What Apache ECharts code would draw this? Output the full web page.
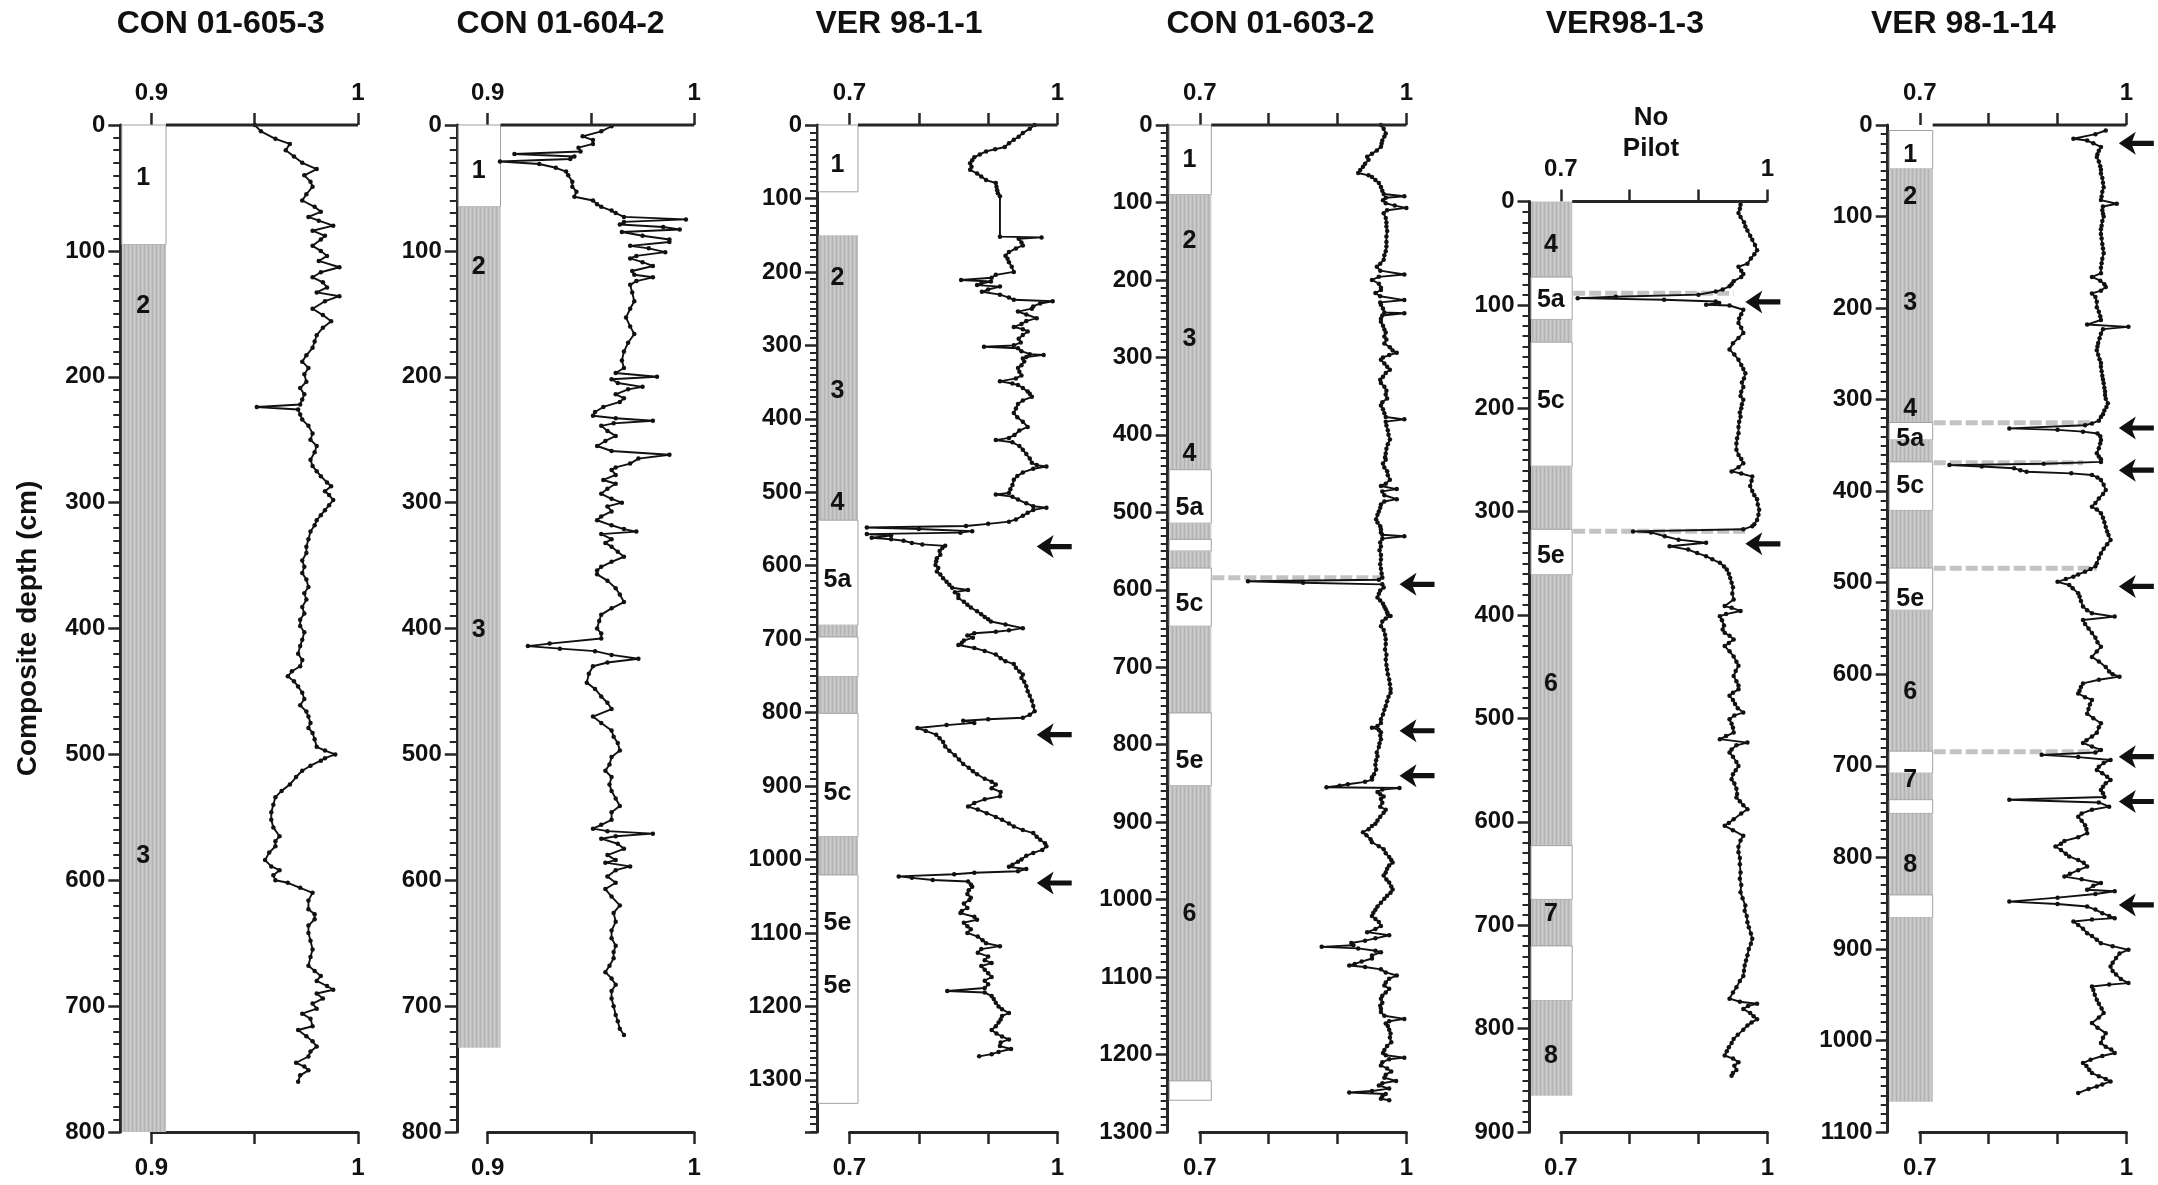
<!DOCTYPE html>
<html>
<head>
<meta charset="utf-8">
<title>Core logs</title>
<script src="https://cdn.jsdelivr.net/npm/echarts@6/dist/echarts.min.js"></script>
<style>
  html, body { margin: 0; padding: 0; background: #fff; }
  #chart { width: 2158px; height: 1185px; }
</style>
</head>
<body>
<div id="chart"></div>
<script>
// ---- core names ----
const coreNames = ['CON 01-605-3', 'CON 01-604-2', 'VER 98-1-1', 'CON 01-603-2', 'VER98-1-3', 'VER 98-1-14'];

// ---- measured profiles: [depth (cm), value] ----
const con6053 = [[0,0.950],[5,0.953],[11,0.960],[15,0.967],[20,0.965],[25,0.969],[30,0.973],[35,0.980],[40,0.974],[45,0.977],[49,0.978],[55,0.975],[60,0.973],[65,0.979],[69,0.982],[73,0.976],[76,0.981],[80,0.988],[84,0.978],[88,0.984],[91,0.982],[96,0.978],[100,0.982],[104,0.985],[108,0.981],[113,0.991],[117,0.982],[121,0.978],[125,0.983],[129,0.985],[133,0.980],[136,0.991],[140,0.984],[146,0.978],[151,0.983],[156,0.987],[161,0.983],[167,0.980],[172,0.979],[177,0.978],[183,0.975],[188,0.973],[193,0.976],[198,0.974],[204,0.975],[209,0.972],[214,0.974],[218,0.973],[222,0.972],[224,0.951],[226,0.971],[230,0.972],[234,0.973],[239,0.976],[245,0.978],[250,0.977],[255,0.980],[260,0.979],[266,0.977],[271,0.978],[275,0.980],[279,0.982],[284,0.985],[287,0.987],[291,0.984],[294,0.986],[298,0.988],[302,0.986],[306,0.984],[310,0.982],[314,0.980],[318,0.979],[323,0.977],[329,0.976],[335,0.975],[340,0.975],[346,0.973],[351,0.974],[356,0.973],[361,0.975],[367,0.976],[372,0.974],[377,0.975],[383,0.973],[388,0.974],[393,0.972],[398,0.972],[403,0.974],[409,0.973],[414,0.972],[420,0.971],[425,0.973],[430,0.972],[434,0.968],[438,0.966],[442,0.969],[446,0.971],[451,0.973],[456,0.974],[461,0.972],[466,0.975],[470,0.976],[475,0.977],[479,0.976],[483,0.978],[488,0.979],[494,0.980],[497,0.984],[500,0.989],[503,0.984],[505,0.982],[509,0.977],[513,0.973],[518,0.970],[524,0.967],[529,0.963],[534,0.960],[540,0.959],[546,0.958],[552,0.958],[558,0.959],[565,0.962],[569,0.960],[573,0.960],[578,0.957],[584,0.955],[589,0.958],[592,0.962],[596,0.959],[600,0.960],[602,0.966],[606,0.972],[610,0.978],[616,0.976],[623,0.976],[627,0.979],[631,0.979],[636,0.976],[642,0.976],[648,0.977],[655,0.978],[661,0.977],[668,0.976],[672,0.979],[676,0.982],[680,0.980],[684,0.985],[687,0.988],[690,0.980],[694,0.983],[698,0.978],[702,0.980],[706,0.973],[710,0.977],[716,0.978],[719,0.971],[724,0.975],[728,0.978],[732,0.980],[736,0.977],[740,0.976],[745,0.970],[748,0.974],[751,0.976],[755,0.972],[760,0.971]];

const con6042 = [[1,0.960],[5,0.955],[9,0.946],[12,0.951],[15,0.951],[18,0.944],[21,0.945],[23,0.913],[25,0.942],[27,0.940],[29,0.906],[31,0.925],[34,0.933],[37,0.938],[40,0.939],[45,0.941],[49,0.941],[53,0.943],[57,0.942],[60,0.951],[63,0.953],[65,0.955],[68,0.960],[70,0.962],[73,0.966],[75,0.996],[77,0.966],[79,0.964],[81,0.985],[83,0.993],[85,0.965],[88,0.975],[91,0.988],[93,0.988],[96,0.969],[98,0.978],[101,0.986],[104,0.972],[106,0.969],[109,0.975],[112,0.980],[116,0.970],[119,0.971],[121,0.980],[124,0.972],[127,0.969],[133,0.970],[140,0.971],[146,0.969],[153,0.967],[160,0.969],[166,0.971],[173,0.968],[180,0.966],[187,0.965],[193,0.966],[197,0.962],[200,0.982],[202,0.960],[205,0.963],[208,0.975],[210,0.968],[214,0.962],[217,0.966],[220,0.964],[224,0.956],[228,0.952],[231,0.951],[233,0.962],[235,0.980],[237,0.961],[239,0.955],[243,0.958],[247,0.962],[251,0.957],[255,0.953],[259,0.960],[262,0.988],[265,0.973],[269,0.969],[272,0.962],[274,0.960],[278,0.962],[282,0.956],[285,0.962],[289,0.958],[293,0.955],[297,0.960],[300,0.965],[303,0.958],[307,0.960],[311,0.955],[314,0.953],[318,0.960],[321,0.966],[323,0.972],[325,0.955],[329,0.960],[332,0.957],[335,0.960],[339,0.963],[343,0.966],[347,0.960],[351,0.955],[354,0.953],[357,0.953],[362,0.958],[368,0.962],[373,0.964],[379,0.966],[384,0.960],[389,0.955],[394,0.954],[400,0.953],[404,0.955],[408,0.955],[412,0.930],[414,0.9195],[416,0.935],[418,0.952],[421,0.960],[424,0.973],[427,0.958],[430,0.951],[436,0.949],[443,0.948],[448,0.952],[454,0.955],[459,0.958],[464,0.960],[470,0.951],[475,0.955],[481,0.960],[486,0.961],[491,0.963],[497,0.964],[502,0.960],[508,0.959],[513,0.957],[518,0.960],[524,0.959],[529,0.960],[535,0.962],[541,0.964],[546,0.960],[552,0.960],[556,0.955],[559,0.951],[561,0.958],[563,0.980],[565,0.962],[567,0.955],[571,0.963],[575,0.966],[580,0.958],[584,0.962],[586,0.957],[589,0.969],[592,0.962],[597,0.958],[602,0.962],[607,0.957],[613,0.960],[620,0.964],[626,0.961],[633,0.962],[640,0.960],[646,0.960],[652,0.962],[657,0.961],[662,0.961],[668,0.959],[673,0.957],[678,0.960],[683,0.962],[688,0.960],[694,0.960],[700,0.961],[707,0.962],[712,0.963],[718,0.964],[723,0.966]];

const ver9811 = [[0,0.967],[5,0.960],[11,0.950],[16,0.944],[20,0.937],[25,0.930],[30,0.924],[33,0.910],[36,0.897],[40,0.888],[44,0.880],[48,0.877],[52,0.874],[57,0.876],[61,0.874],[66,0.884],[70,0.890],[75,0.897],[79,0.911],[84,0.912],[89,0.913],[93,0.914],[97,0.917],[152,0.917],[153,0.977],[155,0.944],[160,0.948],[164,0.950],[168,0.940],[173,0.930],[178,0.925],[182,0.928],[187,0.930],[193,0.934],[200,0.937],[204,0.911],[208,0.905],[211,0.861],[213,0.904],[216,0.890],[218,0.884],[220,0.917],[224,0.900],[227,0.891],[231,0.917],[235,0.930],[238,0.937],[240,0.993],[243,0.975],[247,0.965],[250,0.963],[254,0.943],[258,0.955],[263,0.970],[267,0.955],[271,0.948],[275,0.937],[278,0.950],[281,0.957],[286,0.950],[291,0.944],[296,0.947],[300,0.937],[302,0.894],[304,0.943],[308,0.948],[312,0.960],[313,0.980],[316,0.955],[318,0.950],[322,0.952],[327,0.948],[331,0.943],[336,0.945],[341,0.948],[345,0.940],[349,0.917],[352,0.935],[354,0.943],[358,0.950],[363,0.957],[366,0.960],[370,0.963],[375,0.950],[380,0.943],[386,0.940],[392,0.937],[398,0.942],[404,0.950],[411,0.957],[416,0.945],[422,0.938],[426,0.930],[429,0.911],[432,0.935],[437,0.945],[442,0.950],[448,0.955],[454,0.960],[460,0.963],[463,0.970],[465,0.984],[468,0.965],[473,0.950],[478,0.942],[483,0.937],[490,0.935],[496,0.932],[501,0.930],[503,0.911],[506,0.935],[510,0.943],[515,0.955],[519,0.965],[521,0.984],[524,0.965],[528,0.957],[532,0.950],[537,0.940],[540,0.930],[543,0.900],[546,0.868],[548,0.725],[550,0.800],[553,0.877],[555,0.860],[557,0.725],[559,0.760],[562,0.732],[564,0.760],[566,0.778],[569,0.790],[571,0.805],[573,0.838],[576,0.834],[580,0.830],[585,0.831],[590,0.826],[594,0.825],[599,0.824],[603,0.828],[608,0.826],[612,0.831],[617,0.835],[622,0.840],[626,0.844],[630,0.848],[633,0.871],[636,0.852],[640,0.857],[644,0.857],[649,0.865],[653,0.870],[657,0.875],[662,0.884],[666,0.890],[670,0.895],[673,0.900],[676,0.904],[680,0.925],[685,0.950],[688,0.930],[690,0.911],[692,0.880],[695,0.870],[698,0.878],[702,0.865],[705,0.862],[708,0.857],[712,0.880],[716,0.895],[721,0.911],[726,0.918],[730,0.925],[734,0.937],[739,0.940],[744,0.945],[748,0.950],[753,0.948],[758,0.952],[764,0.955],[771,0.957],[777,0.960],[784,0.963],[791,0.965],[798,0.967],[803,0.960],[807,0.950],[809,0.900],[811,0.864],[814,0.880],[817,0.840],[821,0.798],[825,0.810],[830,0.825],[835,0.830],[840,0.835],[846,0.838],[852,0.844],[858,0.852],[864,0.858],[870,0.864],[875,0.872],[880,0.878],[884,0.884],[890,0.895],[894,0.905],[898,0.911],[903,0.905],[908,0.918],[914,0.917],[918,0.895],[923,0.880],[928,0.871],[932,0.885],[937,0.898],[942,0.911],[946,0.920],[951,0.930],[955,0.937],[960,0.950],[964,0.965],[969,0.970],[973,0.975],[978,0.982],[982,0.984],[987,0.978],[991,0.965],[995,0.955],[1000,0.948],[1003,0.943],[1007,0.935],[1010,0.930],[1013,0.955],[1016,0.943],[1018,0.880],[1020,0.851],[1023,0.771],[1025,0.790],[1028,0.820],[1030,0.871],[1034,0.875],[1037,0.877],[1042,0.872],[1047,0.870],[1052,0.875],[1055,0.873],[1060,0.865],[1066,0.870],[1070,0.862],[1073,0.860],[1078,0.880],[1082,0.884],[1086,0.865],[1091,0.870],[1095,0.875],[1100,0.870],[1105,0.885],[1110,0.892],[1114,0.897],[1118,0.917],[1122,0.890],[1127,0.885],[1132,0.900],[1137,0.895],[1141,0.905],[1145,0.890],[1150,0.895],[1155,0.900],[1160,0.905],[1165,0.895],[1170,0.900],[1175,0.895],[1179,0.841],[1181,0.895],[1186,0.905],[1190,0.908],[1195,0.911],[1200,0.915],[1204,0.920],[1209,0.930],[1213,0.920],[1218,0.918],[1222,0.915],[1227,0.911],[1232,0.905],[1237,0.912],[1241,0.920],[1245,0.930],[1249,0.918],[1254,0.917],[1258,0.933],[1262,0.915],[1265,0.905],[1268,0.887]];

const con6032 = [[0,0.963],[5,0.967],[11,0.970],[15,0.968],[20,0.965],[24,0.964],[28,0.963],[33,0.957],[37,0.950],[41,0.943],[45,0.945],[50,0.940],[54,0.937],[58,0.933],[62,0.930],[65,0.945],[67,0.950],[71,0.955],[75,0.960],[80,0.963],[85,0.965],[89,0.967],[92,0.997],[94,0.970],[97,0.966],[101,0.970],[104,0.983],[107,1.0],[110,0.972],[114,0.967],[120,0.970],[126,0.971],[131,0.971],[137,0.972],[144,0.971],[151,0.971],[157,0.971],[163,0.970],[168,0.968],[174,0.967],[179,0.962],[183,0.957],[188,0.962],[193,0.997],[196,0.960],[200,0.950],[205,0.960],[210,0.963],[213,0.963],[217,0.955],[221,0.962],[226,0.997],[229,0.962],[232,0.963],[237,0.966],[242,0.968],[243,0.997],[246,0.965],[250,0.963],[254,0.963],[259,0.966],[264,0.968],[268,0.970],[273,0.968],[277,0.971],[282,0.968],[287,0.976],[291,0.980],[294,0.986],[297,0.975],[300,0.966],[303,0.963],[308,0.968],[312,0.972],[316,0.976],[320,0.970],[325,0.966],[329,0.962],[333,0.963],[338,0.968],[343,0.971],[348,0.970],[353,0.972],[358,0.965],[362,0.963],[367,0.966],[372,0.968],[377,0.970],[380,0.997],[383,0.970],[388,0.971],[394,0.973],[400,0.974],[406,0.976],[412,0.973],[418,0.971],[424,0.970],[429,0.969],[432,0.970],[437,0.966],[442,0.968],[447,0.972],[452,0.973],[458,0.976],[463,0.970],[466,0.963],[470,0.986],[473,0.965],[478,0.968],[483,0.986],[486,0.968],[490,0.963],[494,0.962],[499,0.960],[503,0.958],[509,0.956],[513,0.958],[518,0.962],[522,0.963],[526,0.963],[529,0.965],[531,0.997],[534,0.965],[539,0.962],[544,0.963],[549,0.961],[555,0.963],[561,0.963],[567,0.962],[573,0.963],[579,0.964],[584,0.965],[587,0.960],[589,0.770],[591,0.850],[593,0.965],[597,0.967],[601,0.962],[605,0.960],[610,0.958],[614,0.962],[618,0.966],[622,0.968],[625,0.970],[629,0.972],[632,0.973],[634,0.977],[637,0.970],[641,0.965],[647,0.963],[652,0.967],[658,0.969],[664,0.970],[670,0.970],[677,0.969],[684,0.971],[690,0.970],[697,0.971],[703,0.972],[709,0.973],[716,0.975],[722,0.976],[728,0.977],[733,0.977],[738,0.974],[744,0.972],[750,0.970],[755,0.968],[761,0.966],[767,0.963],[772,0.963],[776,0.958],[778,0.950],[781,0.960],[784,0.963],[788,0.962],[793,0.963],[798,0.961],[803,0.960],[810,0.957],[815,0.958],[820,0.956],[826,0.955],[832,0.956],[838,0.953],[842,0.950],[845,0.950],[848,0.940],[851,0.915],[853,0.903],[855,0.884],[856,0.990],[858,0.965],[861,0.958],[864,0.962],[867,0.967],[870,0.963],[875,0.965],[880,0.962],[884,0.970],[888,0.967],[893,0.962],[898,0.958],[902,0.955],[905,0.950],[909,0.945],[913,0.937],[917,0.942],[922,0.948],[926,0.950],[931,0.960],[935,0.967],[940,0.970],[945,0.975],[949,0.978],[952,0.980],[956,0.975],[960,0.972],[965,0.970],[969,0.967],[974,0.971],[978,0.975],[983,0.978],[987,0.980],[991,0.977],[995,0.972],[999,0.968],[1004,0.963],[1009,0.958],[1013,0.955],[1017,0.952],[1021,0.950],[1025,0.955],[1029,0.960],[1034,0.963],[1038,0.955],[1042,0.943],[1046,0.975],[1050,0.955],[1053,0.940],[1056,0.920],[1059,0.923],[1061,0.877],[1063,0.930],[1066,0.955],[1068,0.963],[1072,0.950],[1076,0.950],[1080,0.935],[1083,0.925],[1085,0.917],[1087,0.940],[1090,0.963],[1094,0.970],[1098,0.986],[1102,0.975],[1107,0.970],[1111,0.968],[1115,0.975],[1120,0.970],[1124,0.965],[1128,0.963],[1133,0.965],[1137,0.962],[1141,0.963],[1145,0.963],[1150,0.968],[1154,0.997],[1157,0.975],[1160,0.970],[1163,0.973],[1168,0.975],[1173,0.977],[1178,0.976],[1184,0.978],[1189,0.972],[1194,0.968],[1198,0.966],[1201,0.970],[1204,0.997],[1206,0.975],[1210,0.965],[1214,0.963],[1218,0.972],[1222,0.978],[1226,0.970],[1230,0.968],[1234,0.985],[1237,0.965],[1240,0.960],[1244,0.975],[1247,0.950],[1249,0.917],[1251,0.970],[1254,0.965],[1257,0.963],[1259,0.975]];

const ver9813 = [[3,0.961],[7,0.960],[11,0.958],[15,0.961],[20,0.966],[24,0.968],[28,0.971],[33,0.975],[37,0.978],[42,0.982],[47,0.985],[51,0.981],[55,0.976],[60,0.971],[63,0.958],[67,0.962],[70,0.965],[73,0.962],[77,0.951],[80,0.948],[82,0.945],[85,0.935],[87,0.925],[90,0.900],[92,0.780],[93.4,0.7245],[95,0.850],[96.6,0.925],[98,0.930],[99.8,0.911],[100.5,0.945],[104.6,0.965],[109,0.962],[113,0.959],[117.5,0.958],[122,0.962],[127,0.965],[132,0.958],[137,0.950],[143,0.945],[148,0.952],[153,0.958],[158,0.962],[162,0.965],[166,0.968],[171,0.966],[175,0.963],[179.4,0.965],[184,0.962],[188,0.961],[191.7,0.965],[196,0.963],[200,0.962],[204,0.960],[208,0.961],[213,0.959],[218,0.958],[224,0.958],[229,0.956],[234,0.955],[240,0.955],[245,0.958],[249,0.962],[253,0.965],[257,0.958],[261,0.948],[263,0.962],[266,0.978],[270,0.977],[275,0.975],[280,0.978],[284,0.981],[288,0.985],[293,0.986],[298,0.988],[303,0.987],[308,0.985],[312,0.981],[314,0.978],[317,0.965],[319,0.805],[320,0.831],[323.7,0.851],[327,0.871],[330,0.911],[333.4,0.858],[336.6,0.885],[340,0.898],[343,0.911],[346,0.920],[349.4,0.931],[353,0.937],[356,0.941],[360,0.944],[364,0.946],[368.7,0.948],[373,0.950],[379,0.949],[385,0.951],[391.3,0.938],[393,0.948],[396,0.961],[399,0.940],[401,0.931],[405,0.934],[410,0.937],[414,0.935],[417,0.938],[420,0.945],[423.5,0.951],[427,0.944],[430,0.938],[435,0.945],[440,0.951],[445,0.955],[449,0.958],[454,0.954],[459,0.951],[464,0.955],[468,0.958],[471.8,0.958],[475,0.950],[478,0.945],[482,0.950],[486,0.953],[490,0.957],[494.3,0.965],[497,0.952],[500.8,0.945],[505,0.948],[509,0.950],[513.6,0.951],[517,0.940],[520,0.931],[523.3,0.971],[526,0.955],[530,0.948],[533,0.945],[537,0.950],[542,0.955],[546,0.958],[550,0.954],[554,0.950],[558.7,0.948],[563,0.952],[568,0.955],[573,0.956],[576.4,0.955],[580,0.960],[584,0.965],[587.7,0.971],[592,0.962],[597.4,0.951],[601,0.944],[603.8,0.938],[608,0.950],[613.5,0.965],[618,0.961],[624,0.958],[629.5,0.958],[635,0.960],[641,0.960],[649,0.961],[655,0.960],[661,0.962],[668,0.961],[674,0.964],[681,0.968],[686,0.967],[691,0.970],[697,0.971],[702,0.973],[708,0.976],[713,0.978],[718,0.976],[723,0.973],[729,0.971],[734,0.969],[739,0.967],[744,0.966],[749,0.965],[754,0.960],[760,0.955],[765,0.950],[771,0.945],[774,0.960],[776,0.985],[778,0.972],[781,0.965],[785,0.975],[788,0.980],[791,0.985],[794,0.977],[797,0.971],[801,0.965],[806,0.957],[810,0.951],[814,0.948],[818,0.944],[822,0.941],[826,0.938],[829,0.950],[832.6,0.958],[836,0.952],[840,0.955],[843,0.950],[845.5,0.948]];

const ver98114 = [[6,0.970],[10,0.955],[15,0.923],[17,0.943],[20,0.952],[24,0.963],[28,0.960],[32,0.958],[35,0.957],[40,0.960],[45,0.962],[49,0.963],[53,0.963],[58,0.965],[63,0.966],[68,0.967],[73,0.965],[78,0.964],[82,0.963],[86,0.986],[89,0.966],[93,0.965],[97,0.966],[100,0.967],[105,0.965],[110,0.964],[114,0.963],[119,0.963],[124,0.964],[130,0.965],[135,0.966],[140,0.967],[146,0.965],[151,0.964],[156,0.963],[162,0.963],[166,0.950],[170,0.962],[174,0.968],[177,0.970],[181,0.963],[184,0.950],[188,0.955],[193,0.957],[199,0.957],[204,0.960],[209,0.962],[213,0.963],[218,0.943],[220.5,1.003],[223,0.966],[228,0.963],[233,0.961],[238,0.959],[242,0.958],[246,0.957],[251,0.959],[256,0.961],[260,0.963],[264,0.963],[269,0.964],[274,0.965],[278,0.966],[282,0.967],[287,0.968],[291,0.969],[295,0.969],[299,0.970],[304,0.973],[308,0.971],[312,0.968],[316,0.966],[319,0.963],[323,0.960],[326,0.950],[328,0.940],[331.4,0.830],[333,0.900],[335,0.937],[337,0.958],[340,0.962],[344,0.963],[348,0.962],[353,0.960],[358.7,0.957],[362,0.960],[365,0.963],[368,0.963],[370,0.880],[371.5,0.743],[373,0.790],[375,0.837],[377,0.846],[378.8,0.855],[380.5,0.920],[382.4,0.950],[385,0.958],[387.8,0.963],[393,0.967],[398.8,0.970],[403,0.966],[408,0.960],[413,0.955],[417,0.950],[420,0.957],[424,0.963],[429,0.966],[434,0.968],[439,0.970],[444,0.972],[448,0.974],[453.4,0.977],[458,0.972],[463,0.967],[468,0.963],[473,0.960],[478.8,0.957],[482,0.955],[485,0.948],[488,0.940],[491,0.930],[493.4,0.923],[496,0.912],[499,0.900],[502.5,0.917],[506,0.922],[511.6,0.930],[515,0.932],[520,0.934],[526,0.937],[530,0.943],[533.4,0.950],[537,0.983],[540.7,0.937],[545,0.940],[550,0.945],[555,0.950],[560,0.955],[565,0.958],[570,0.963],[575,0.957],[581,0.950],[586,0.960],[592,0.970],[597,0.975],[600,0.980],[602.6,0.990],[606,0.960],[610,0.937],[614,0.934],[618,0.932],[621,0.930],[625,0.940],[628,0.950],[633,0.947],[638,0.945],[643,0.943],[648,0.952],[653.5,0.963],[658,0.960],[664,0.957],[668,0.950],[672,0.942],[675,0.937],[679,0.950],[682.6,0.963],[685.5,0.955],[688,0.877],[690.5,0.930],[693.6,0.977],[697,0.967],[701,0.960],[704.5,0.957],[708,0.965],[712,0.972],[715.5,0.977],[719,0.970],[723,0.966],[726.4,0.963],[730,0.966],[734,0.968],[737,0.830],[740,0.960],[744.6,0.975],[748,0.950],[752,0.935],[755.5,0.930],[760,0.935],[765,0.940],[769,0.942],[773.6,0.943],[778,0.930],[782,0.910],[785,0.905],[788.2,0.897],[792,0.905],[796,0.912],[799,0.917],[803,0.930],[806,0.938],[810,0.943],[814,0.930],[818,0.918],[821,0.910],[824,0.935],[828,0.963],[831,0.952],[835.4,0.943],[837,0.983],[840,0.955],[844,0.900],[848.3,0.830],[851,0.900],[853.7,0.943],[857,0.955],[861,0.965],[864,0.975],[866.4,0.983],[868,0.950],[870,0.923],[874,0.930],[878,0.937],[882.8,0.943],[886,0.950],[890,0.957],[893.7,0.963],[897,0.980],[901,1.003],[905,0.990],[910,0.985],[915,0.980],[919.2,0.977],[924,0.980],[928,0.985],[933,0.992],[937.3,1.003],[939,0.975],[941,0.950],[945,0.952],[950,0.954],[955.6,0.957],[960,0.960],[965,0.964],[970,0.967],[975,0.960],[981,0.950],[986,0.958],[992,0.970],[997,0.966],[1002.8,0.963],[1007,0.970],[1010,0.978],[1013.7,0.983],[1017,0.965],[1021,0.948],[1024.7,0.937],[1028,0.942],[1032,0.946],[1035.6,0.950],[1039,0.960],[1042,0.970],[1044.8,0.977],[1048,0.965],[1050.2,0.957],[1053,0.945],[1057.5,0.930]];

// ---- isotope stage columns: [top depth, bottom depth, shaded (1) or open (0)] ----
const stages6053 = [[0,95,0],[95,800,1]];
const stages6042 = [[0,65,0],[65,733,1]];
const stages9811 = [[0,91,0],[150,538,1],[538,681,0],[681,697,1],[697,751,0],[751,801,1],[801,969,0],[969,1021,1],[1021,1332,0]];
const stages6032 = [[0,90,0],[90,445,1],[445,514,0],[514,535,1],[535,550,0],[550,572,1],[572,647,0],[647,759,1],[759,853,0],[853,1234,1],[1234,1259,0]];
const stages9813 = [[0,73,1],[73,114,0],[114,136,1],[136,256,0],[256,317,1],[317,361,0],[361,623,1],[623,675,0],[675,720,1],[720,773,0],[773,865,1]];
const stages98114 = [[6,48,0],[48,325,1],[325,344,0],[344,368,1],[368,421,0],[421,484,1],[484,530,0],[530,684,1],[684,708,0],[708,737,1],[737,752,0],[752,841,1],[841,866,0],[866,1067,1]];

// ---- stage labels: [depth, label] ----
const labels6053 = [[42,'1'],[144,'2'],[581,'3']];
const labels6042 = [[37,'1'],[113,'2'],[401,'3']];
const labels9811 = [[55,'1'],[208,'2'],[362,'3'],[515,'4'],[619,'5a'],[909,'5c'],[1087,'5e'],[1173,'5e']];
const labels6032 = [[45,'1'],[150,'2'],[277,'3'],[425,'4'],[494,'5a'],[619,'5c'],[821,'5e'],[1019,'6']];
const labels9813 = [[42,'4'],[95,'5a'],[193,'5c'],[343,'5e'],[467,'6'],[689,'7'],[827,'8']];
const labels98114 = [[33,'1'],[79,'2'],[195,'3'],[310,'4'],[343,'5a'],[395,'5c'],[518,'5e'],[619,'6'],[716,'7'],[808,'8']];

// ---- marked events: arrow depths and dashed tie lines [depth, end value] ----
const arrows9811 = [574, 830, 1032];
const arrows6032 = [593, 782, 840];
const arrows9813 = [97, 331];
const arrows98114 = [20, 331, 377, 504, 690, 739, 852];
const ties6032 = [[584.5, 0.970]];
const ties9813 = [[88.6, 0.951], [318.8, 0.971]];
const ties98114 = [[325.3, 0.950], [369, 0.937], [484.3, 0.957], [684.5, 0.957]];

// ---- axis ranges ----
const xRanges = [[0.9, 1, 0.05], [0.9, 1, 0.05], [0.7, 1, 0.1], [0.7, 1, 0.1], [0.7, 1, 0.1], [0.7, 1, 0.1]];
const depthMax = [800, 800, 1371, 1300, 900, 1100];

// ---- panel geometry (px) ----
const BOTTOM = 1132;
const frames = [
  { left: 151.5, right: 358.0, top: 125, gap: 31.2, col: 14.5, title: 220.8, arrowTip: null },
  { left: 487.6, right: 694.2, top: 125, gap: 30.8, col: 12.9, title: 560.6, arrowTip: null },
  { left: 849.5, right: 1057.5, top: 125, gap: 32.5, col: 8.5, title: 899.0, arrowTip: 0.970 },
  { left: 1199.8, right: 1406.4, top: 125, gap: 32.1, col: 11.5, title: 1270.5, arrowTip: 0.990 },
  { left: 1560.8, right: 1767.4, top: 201.6, gap: 31.3, col: 11.4, title: 1624.8, arrowTip: 0.968 },
  { left: 1919.8, right: 2126.4, top: 125, gap: 32.1, col: 12.9, title: 1963.4, arrowTip: 0.989 }
];

const profiles = [con6053, con6042, ver9811, con6032, ver9813, ver98114];
const stageSets = [stages6053, stages6042, stages9811, stages6032, stages9813, stages98114];
const labelSets = [labels6053, labels6042, labels9811, labels6032, labels9813, labels98114];
const arrowSets = [[], [], arrows9811, arrows6032, arrows9813, arrows98114];
const tieSets = [[], [], [], ties6032, ties9813, ties98114];

const FONT = '"Liberation Sans", Arial, Helvetica, sans-serif';
const INK = '#111111';
const AXIS = '#262626';

// vertical hatching for glacial stages
const hatch = (function () {
  const c = document.createElement('canvas');
  c.width = 4; c.height = 8;
  const g = c.getContext('2d');
  const cols = ['#b3b3b3', '#c2c2c2', '#cbcbcb', '#c2c2c2'];
  cols.forEach(function (col, i) { g.fillStyle = col; g.fillRect(i, 0, 1, 8); });
  return c;
})();

const grids = [], xAxes = [], yAxes = [], series = [], graphics = [];

frames.forEach(function (f, i) {
  const xr = xRanges[i];
  const xMin = xr[0], xMax = xr[1];
  const isEnd = function (v) { return Math.abs(v - xMin) < 1e-6 || Math.abs(v - xMax) < 1e-6; };
  const fmtX = function (v) { return isEnd(v) ? String(+v.toFixed(2)) : ''; };

  grids.push({ left: f.left, top: f.top, width: f.right - f.left, height: BOTTOM - f.top,
    containLabel: false, outerBoundsMode: 'none' });

  const xBase = {
    gridIndex: i, type: 'value', min: xMin, max: xMax, interval: xr[2],
    splitLine: { show: false },
    axisTick: { show: true, inside: false, length: 12, lineStyle: { color: AXIS, width: 2.5 } },
    axisLabel: { formatter: fmtX, fontSize: 24, fontWeight: 'bold', color: INK, fontFamily: FONT }
  };
  xAxes.push(Object.assign({}, xBase, {
    position: 'bottom',
    axisLine: { show: true, onZero: false, lineStyle: { color: AXIS, width: 3 } },
    axisLabel: Object.assign({}, xBase.axisLabel, { margin: 24 })
  }));
  xAxes.push(Object.assign({}, xBase, {
    position: 'top',
    axisLine: { show: false, onZero: false },
    axisLabel: Object.assign({}, xBase.axisLabel, { margin: 20 })
  }));

  yAxes.push({
    gridIndex: i, type: 'value', inverse: true, min: 0, max: depthMax[i], interval: 100,
    position: 'left', offset: f.gap,
    name: i === 0 ? 'Composite depth (cm)' : '',
    nameLocation: 'middle', nameGap: 78, nameRotate: 90,
    nameTextStyle: { fontSize: 28, fontWeight: 'bold', color: INK, fontFamily: FONT },
    splitLine: { show: false },
    axisLine: { show: true, onZero: false, lineStyle: { color: AXIS, width: 3 } },
    axisTick: { show: true, inside: false, length: 12, lineStyle: { color: AXIS, width: 2.5 } },
    minorTick: { show: true, splitNumber: 10, length: 7, lineStyle: { color: AXIS, width: 2 } },
    axisLabel: { margin: 15, fontSize: 24, fontWeight: 'bold', color: INK, fontFamily: FONT,
      formatter: function (v) { return Math.abs(v % 100) < 1e-6 ? String(Math.round(v)) : ''; } }
  });

  const xIdx = i * 2;

  // stage column
  series.push({
    type: 'custom', xAxisIndex: xIdx, yAxisIndex: i, clip: false, silent: true, z: 1,
    data: stageSets[i], encode: { y: [0, 1] },
    renderItem: function (params, api) {
      const p0 = api.coord([xMin, api.value(0)]);
      const p1 = api.coord([xMin, api.value(1)]);
      const x0 = p0[0] - f.gap + 1.5, x1 = p0[0] + f.col;
      const shaded = api.value(2) === 1;
      return {
        type: 'rect',
        shape: { x: x0, y: p0[1], width: x1 - x0, height: p1[1] - p0[1] },
        style: shaded ? { fill: { image: hatch, repeat: 'repeat' } }
                      : { fill: '#ffffff', stroke: '#a2a2a2', lineWidth: 1 }
      };
    }
  });

  // top frame line, starting at the column edge
  series.push({
    type: 'custom', xAxisIndex: xIdx, yAxisIndex: i, clip: false, silent: true, z: 6,
    data: [[xMin, 0]],
    renderItem: function (params, api) {
      const a = api.coord([xMin, 0]), b = api.coord([xMax, 0]);
      return { type: 'line', shape: { x1: a[0] + f.col, y1: a[1], x2: b[0], y2: b[1] },
        style: { stroke: AXIS, lineWidth: 3 } };
    }
  });

  // stage labels
  series.push({
    type: 'custom', xAxisIndex: xIdx, yAxisIndex: i, clip: false, silent: true, z: 7,
    data: labelSets[i].map(function (l) { return [xMin, l[0]]; }),
    renderItem: function (params, api) {
      const p = api.coord([xMin, api.value(1)]);
      const cx = (p[0] - f.gap + p[0] + f.col) / 2;
      return { type: 'text', x: cx, y: p[1],
        style: { text: labelSets[i][params.dataIndex][1], fontSize: 25, fontWeight: 'bold',
          fontFamily: FONT, fill: INK, align: 'center', verticalAlign: 'middle' } };
    }
  });

  // dashed tie lines
  if (tieSets[i].length) {
    series.push({
      type: 'custom', xAxisIndex: xIdx, yAxisIndex: i, clip: false, silent: true, z: 2,
      data: tieSets[i].map(function (t) { return [t[1], t[0]]; }),
      renderItem: function (params, api) {
        const a = api.coord([xMin, api.value(1)]);
        const b = api.coord([api.value(0), api.value(1)]);
        return { type: 'line', shape: { x1: a[0] + f.col + 1, y1: a[1], x2: b[0], y2: b[1] },
          style: { stroke: '#c3c3c3', lineWidth: 5, lineDash: [12, 4] } };
      }
    });
  }

  // profile
  series.push({
    type: 'line', xAxisIndex: xIdx, yAxisIndex: i, clip: false, z: 4,
    data: profiles[i].map(function (d) { return [d[1], d[0]]; }),
    symbol: 'circle', symbolSize: 4.5, showSymbol: true, showAllSymbol: true,
    lineStyle: { color: INK, width: 1.9 }, itemStyle: { color: INK },
    silent: true
  });

  // arrows
  if (arrowSets[i].length) {
    series.push({
      type: 'custom', xAxisIndex: xIdx, yAxisIndex: i, clip: false, silent: true, z: 8,
      data: arrowSets[i].map(function (d) { return [f.arrowTip, d]; }),
      renderItem: function (params, api) {
        const t = api.coord([api.value(0), api.value(1)]);
        const x = t[0], y = t[1];
        return { type: 'polygon',
          shape: { points: [[x, y], [x + 17, y - 11.5], [x + 13.5, y - 2.6], [x + 35, y - 2.6],
                            [x + 35, y + 2.6], [x + 13.5, y + 2.6], [x + 17, y + 11.5]] },
          style: { fill: INK } };
      }
    });
  }

  graphics.push({ type: 'text', x: f.title, y: 24,
    style: { text: coreNames[i], fontSize: 32, fontWeight: 'bold', fontFamily: FONT, fill: INK,
      align: 'center', verticalAlign: 'middle' } });
});

graphics.push({ type: 'text', x: 1651, y: 133,
  style: { text: 'No\nPilot', fontSize: 26, lineHeight: 31, fontWeight: 'bold', fontFamily: FONT,
    fill: INK, align: 'center', verticalAlign: 'middle' } });

const chart = echarts.init(document.getElementById('chart'), null, { renderer: 'canvas' });
chart.setOption({
  backgroundColor: '#ffffff',
  animation: false,
  grid: grids,
  xAxis: xAxes,
  yAxis: yAxes,
  series: series,
  graphic: graphics
});
</script>
</body>
</html>
